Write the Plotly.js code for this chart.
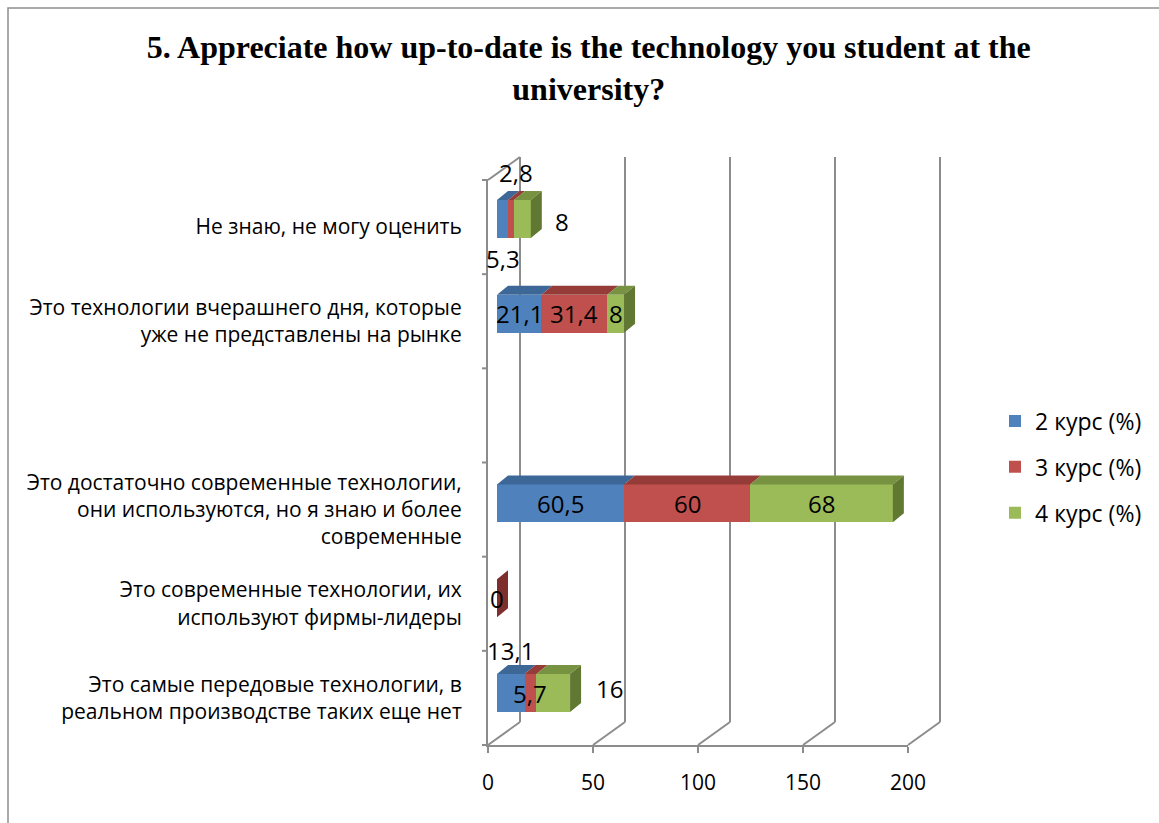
<!DOCTYPE html>
<html>
<head>
<meta charset="utf-8">
<script src="https://cdn.plot.ly/plotly-3.0.1.min.js"></script>
<style>html,body{margin:0;padding:0;background:#fff;}#chart{width:1159px;height:823px;}</style>
</head>
<body>
<div id="chart"></div>
<script>
// ---- data ----
const categories = [
  "Это самые передовые технологии, в<br>реальном производстве таких еще нет",
  "Это современные технологии, их<br>используют фирмы-лидеры",
  "Это достаточно современные технологии,<br>они используются, но я знаю и более<br>современные",
  "",
  "Это технологии вчерашнего дня, которые<br>уже не представлены на рынке",
  "Не знаю, не могу оценить"
];
const seriesNames = ["2 курс (%)", "3 курс (%)", "4 курс (%)"];
const course2 = [13.1, null, 60.5, null, 21.1, 5.3];
const course3 = [5.7, 0, 60, null, 31.4, 2.8];
const course4 = [16, null, 68, null, 8, 8];
const xTicks = [0, 50, 100, 150, 200];
const titleText = "<b>5. Appreciate how up-to-date is the technology you student at the<br>university?</b>";

// ---- style ----
const W = 1159, H = 823;
const px = v => v / W;
const py = v => 1 - v / H;
const frontColors = ["#4F81BD", "#C0504D", "#9BBB59"];
const topColors = ["#3D6797", "#953B38", "#779341"];
const sideColors = ["#325580", "#7E2F2D", "#617832"];
const gridColor = "#8c8c8c";
const FONT = "Open Sans, Noto Sans, sans-serif";
// front box (px)
const F = {x0: 488, x1: 908, yb: 745, yt: 180};
const DEPTH = {dx: 32, dy: -23};
// bar box (px)
const B = {x0: 497, x1: 917, yb: 740.4, yt: 171.6};
const barWidth = 0.4;
const faceDX = 11 / ((B.x1 - B.x0) / 200);   // in x units
const faceDY = 9 / ((B.yb - B.yt) / 6);      // in category units
// data-label shifts (px) keyed "series-row"
const labelShift = {"0-5": [0, -39], "1-5": [5, 46], "2-5": [40, -3], "0-0": [0, 43], "2-0": [56, 5]};

const allSeries = [course2, course3, course4];
const idx = categories.map((_, i) => i);

const traces = allSeries.map((vals, s) => ({
  type: "bar", orientation: "h", x: vals, y: idx, name: seriesNames[s],
  xaxis: "x", yaxis: "y", width: barWidth,
  marker: {color: frontColors[s], line: {width: 0}},
  legendgroup: "g" + s, hoverinfo: "x+name"
}));
traces.push({type: "scatter", x: [], y: [], xaxis: "x2", yaxis: "y2", showlegend: false, hoverinfo: "skip"});

const shapes = [];
const annotations = [];
// border
shapes.push({type: "rect", xref: "paper", yref: "paper", x0: px(8), x1: 1.02, y0: -0.02, y1: py(8),
  line: {color: "#8f8f8f", width: 1.5}, fillcolor: "rgba(0,0,0,0)", layer: "below"});
// walls / grid
const sx = (F.x1 - F.x0) / 200;
xTicks.forEach(t => {
  const fx = F.x0 + t * sx;
  const bx = fx + DEPTH.dx;
  shapes.push({type: "line", xref: "paper", yref: "paper", x0: px(bx), x1: px(bx),
    y0: py(F.yb + DEPTH.dy), y1: py(F.yt + DEPTH.dy), line: {color: gridColor, width: 2}, layer: "below"});
  shapes.push({type: "line", xref: "paper", yref: "paper", x0: px(fx), x1: px(bx),
    y0: py(F.yb), y1: py(F.yb + DEPTH.dy), line: {color: gridColor, width: 2}, layer: "below"});
});
shapes.push({type: "line", xref: "paper", yref: "paper", x0: px(F.x0), x1: px(F.x0 + DEPTH.dx),
  y0: py(F.yt), y1: py(F.yt + DEPTH.dy), line: {color: gridColor, width: 2}, layer: "below"});
const bandH = (F.yb - F.yt) / categories.length;
for (let k = 0; k <= categories.length; k++) {
  const y = F.yb - k * bandH;
  shapes.push({type: "line", xref: "paper", yref: "paper", x0: px(F.x0 - 6), x1: px(F.x0),
    y0: py(y), y1: py(y), line: {color: gridColor, width: 2}, layer: "below"});
}
// 3D faces + labels
idx.forEach(i => {
  let cum = 0, lastS = -1, lastEnd = 0;
  allSeries.forEach((vals, s) => {
    const v = vals[i];
    if (v === null || v === undefined) return;
    const x0 = cum, x1 = cum + v;
    const yt = i + barWidth / 2;
    if (v > 0) {
      shapes.push({type: "path", xref: "x", yref: "y", layer: "above", line: {width: 0},
        fillcolor: topColors[s],
        path: `M${x0},${yt} L${x1},${yt} L${x1 + faceDX},${yt + faceDY} L${x0 + faceDX},${yt + faceDY} Z`});
    }
    const sh = labelShift[s + "-" + i] || [0, 0];
    annotations.push({xref: "x", yref: "y", x: (x0 + x1) / 2, y: i, showarrow: false,
      text: String(v).replace(".", ","), xshift: sh[0], yshift: sh[1],
      font: {family: FONT, size: 24, color: "#000"}});
    cum = x1; lastS = s; lastEnd = x1;
  });
  if (lastS >= 0) {
    const yt = i + barWidth / 2, yb = i - barWidth / 2;
    shapes.push({type: "path", xref: "x", yref: "y", layer: "above", line: {width: 0},
      fillcolor: sideColors[lastS],
      path: `M${lastEnd},${yb} L${lastEnd},${yt} L${lastEnd + faceDX},${yt + faceDY} L${lastEnd + faceDX},${yb + faceDY} Z`});
  }
});

const layout = {
  width: W, height: H,
  margin: {l: 0, r: 0, t: 0, b: 0},
  paper_bgcolor: "#fff", plot_bgcolor: "rgba(0,0,0,0)",
  barmode: "stack",
  font: {family: FONT, color: "#000"},
  title: {text: titleText, font: {family: "Liberation Serif, Times New Roman, serif", size: 32, color: "#000"},
    x: 0.508, xanchor: "center", xref: "container", y: py(58), yanchor: "top", yref: "container"},
  xaxis: {domain: [px(B.x0), px(B.x1)], range: [0, 200], anchor: "y", visible: false, fixedrange: true},
  yaxis: {domain: [py(B.yb), py(B.yt)], range: [-0.5, categories.length - 0.5], anchor: "x", visible: false, fixedrange: true},
  xaxis2: {domain: [px(F.x0), px(F.x1)], range: [0, 200], anchor: "y2", tickmode: "array", tickvals: xTicks,
    ticks: "outside", ticklen: 6, tickwidth: 2, tickcolor: gridColor, showline: true, linecolor: gridColor, linewidth: 2,
    showgrid: false, zeroline: false, tickfont: {family: FONT, size: 21, color: "#000"}, ticklabelstandoff: 12},
  yaxis2: {domain: [py(F.yb), py(F.yt)], range: [-0.5, categories.length - 0.5], anchor: "x2", tickmode: "array",
    tickvals: idx, ticktext: categories, ticks: "", showline: true, linecolor: gridColor, linewidth: 2,
    showgrid: false, zeroline: false, tickfont: {family: FONT, size: 21, color: "#000"}, ticklabelstandoff: 20},
  legend: {x: px(995), xanchor: "left", y: py(467), yanchor: "middle", traceorder: "grouped", tracegroupgap: 13,
    font: {family: FONT, size: 23, color: "#000"}, bgcolor: "rgba(0,0,0,0)"},
  shapes: shapes,
  annotations: annotations,
  showlegend: true
};

Plotly.newPlot("chart", traces, layout, {displayModeBar: false, staticPlot: true});
</script>
</body>
</html>
